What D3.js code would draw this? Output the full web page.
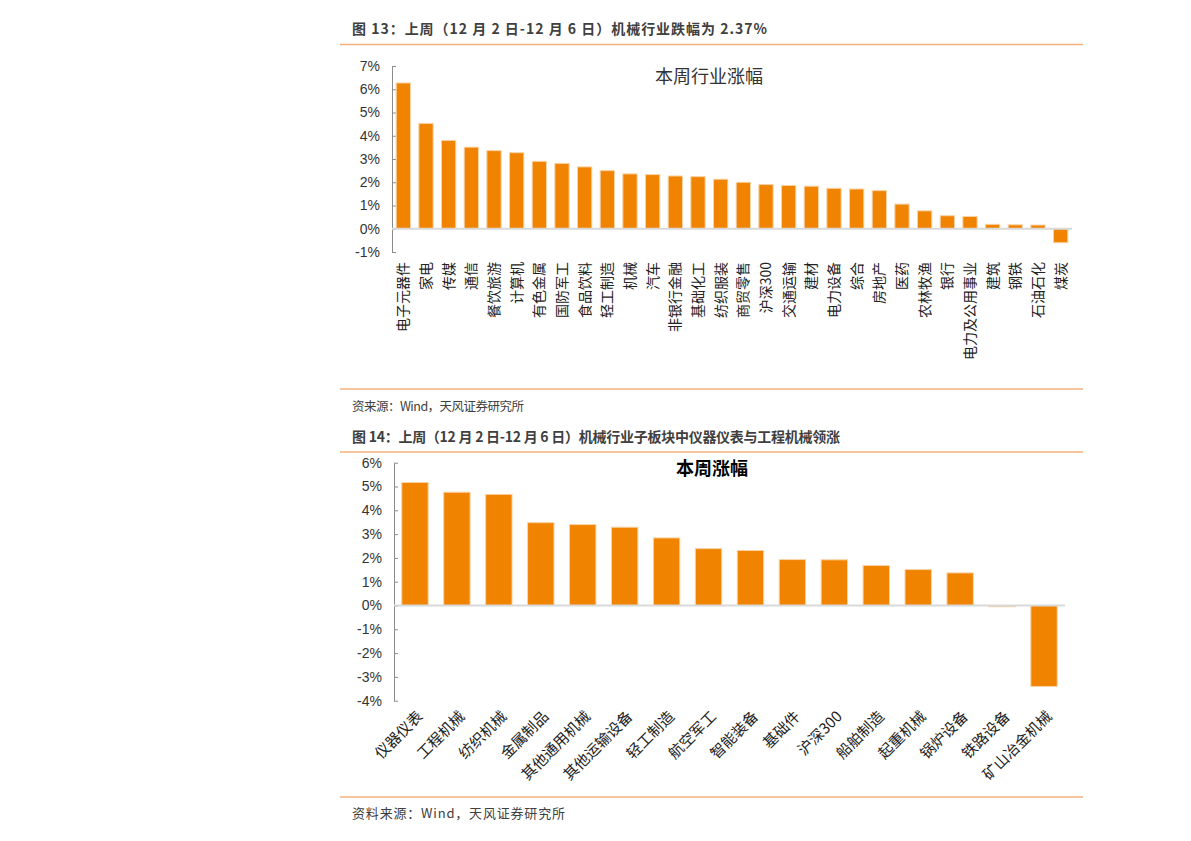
<!DOCTYPE html>
<html>
<head>
<meta charset="utf-8">
<script src="https://cdn.jsdelivr.net/npm/d3@7"></script>
<style>
  body { margin: 0; background: #fff; }
  svg { display: block; }
  text { font-family: "Noto Sans CJK SC", "Microsoft YaHei", sans-serif; }
</style>
</head>
<body>
<svg id="page" width="1191" height="841"></svg>
<script>
// ---- data: figure 13, industry weekly change (%)
const industryNames = ["电子元器件", "家电", "传媒", "通信", "餐饮旅游", "计算机", "有色金属", "国防军工",
    "食品饮料", "轻工制造", "机械", "汽车", "非银行金融", "基础化工", "纺织服装", "商贸零售", "沪深300",
    "交通运输", "建材", "电力设备", "综合", "房地产", "医药", "农林牧渔", "银行", "电力及公用事业",
    "建筑", "钢铁", "石油石化", "煤炭"];
const industryValues = [6.27, 4.53, 3.80, 3.51, 3.36, 3.27, 2.90, 2.81, 2.66, 2.50, 2.36, 2.33, 2.27,
    2.24, 2.13, 2.00, 1.90, 1.86, 1.83, 1.74, 1.71, 1.64, 1.06, 0.77, 0.56, 0.53, 0.19, 0.17, 0.16, -0.60];
const industryTicks = [-1, 0, 1, 2, 3, 4, 5, 6, 7];

// ---- data: figure 14, machinery sub-sectors weekly change (%)
const subNames = ["仪器仪表", "工程机械", "纺织机械", "金属制品", "其他通用机械", "其他运输设备", "轻工制造",
    "航空军工", "智能装备", "基础件", "沪深300", "船舶制造", "起重机械", "锅炉设备", "铁路设备", "矿山冶金机械"];
const subValues = [5.17, 4.76, 4.67, 3.48, 3.40, 3.29, 2.84, 2.39, 2.31, 1.93, 1.92, 1.68, 1.51, 1.37, -0.05, -3.40];
const subTicks = [-4, -3, -2, -1, 0, 1, 2, 3, 4, 5, 6];

const ORANGE = "#F08300";
const RULE = "#F5B07A";

const svg = d3.select("#page");
svg.append("rect").attr("width", 1191).attr("height", 841).attr("fill", "#fff");

// horizontal rules of the report page
[44.5, 389, 452, 797].forEach(y => {
    svg.append("line")
        .attr("x1", 340).attr("x2", 1083)
        .attr("y1", y).attr("y2", y)
        .attr("stroke", RULE).attr("stroke-width", 1.5);
});

// captions and sources (widths matched to the page)
function caption(txt, y, size, bold, len) {
    svg.append("text").attr("x", 352).attr("y", y)
        .attr("fill", "#404040")
        .style("font-size", size + "px")
        .style("font-weight", bold ? "bold" : "normal")
        .attr("textLength", len).attr("lengthAdjust", "spacing")
        .text(txt);
}
caption("图 13：上周（12 月 2 日-12 月 6 日）机械行业跌幅为 2.37%", 34, 14, true, 415);
caption("资来源：Wind，天风证券研究所", 411, 12.5, false, 172);
caption("图 14：上周（12 月 2 日-12 月 6 日）机械行业子板块中仪器仪表与工程机械领涨", 442, 14, true, 488);
caption("资料来源：Wind，天风证券研究所", 818, 13, false, 213);

function drawBars(opt) {
    const g = svg.append("g");

    const x = d3.scaleBand()
        .domain(opt.names)
        .range([opt.left, opt.right])
        .paddingInner(0.37)
        .paddingOuter(0.185);

    const y = d3.scaleLinear()
        .domain([opt.ticks[0], opt.ticks[opt.ticks.length - 1]])
        .range([opt.bottom, opt.top]);

    // y axis
    g.append("g")
        .attr("transform", `translate(${opt.left},0)`)
        .call(d3.axisLeft(y).tickValues(opt.ticks).tickSize(-4).tickSizeOuter(0)
            .tickPadding(12).tickFormat(d => d + "%"))
        .call(a => {
            a.selectAll("path, line").attr("stroke", "#8c8c8c");
            a.selectAll("text").attr("fill", "#333")
                .style("font-family", "'Liberation Sans', Arial, sans-serif")
                .style("font-size", "14px");
        });

    // bars
    const data = opt.names.map((n, i) => ({ name: n, value: opt.values[i] }));
    g.selectAll(".bar")
        .data(data)
        .enter()
        .append("rect")
        .attr("class", "bar")
        .attr("x", d => x(d.name))
        .attr("width", x.bandwidth())
        .attr("y", d => y(Math.max(0, d.value)))
        .attr("height", d => Math.abs(y(d.value) - y(0)))
        .attr("fill", ORANGE)
        .attr("stroke", "#FAD3A6")
        .attr("stroke-width", 1);

    // zero line
    g.append("line")
        .attr("x1", opt.left).attr("x2", opt.right)
        .attr("y1", y(0)).attr("y2", y(0))
        .attr("stroke", "#d9d9d9").attr("stroke-width", 2);

    // category labels
    g.append("g")
        .attr("transform", `translate(0,${opt.bottom})`)
        .call(d3.axisBottom(x).tickSize(0))
        .call(a => {
            a.select(".domain").remove();
            a.selectAll("text")
                .attr("fill", "#222")
                .style("font-family", "'Noto Sans CJK SC', sans-serif")
                .style("font-size", opt.labelSize + "px")
                .style("text-anchor", "end")
                .attr("x", 0).attr("y", 0).attr("dy", "0.35em")
                .attr("transform", opt.labelTransform);
        });

    // chart title
    g.append("text")
        .attr("x", opt.titleX).attr("y", opt.titleY)
        .attr("text-anchor", "middle")
        .attr("dy", "0.35em")
        .attr("fill", opt.titleBold ? "#000" : "#333")
        .style("font-size", "18px")
        .style("font-weight", opt.titleBold ? "bold" : "normal")
        .text(opt.title);
}

drawBars({
    names: industryNames, values: industryValues, ticks: industryTicks,
    left: 392, right: 1072, top: 66, bottom: 252,
    labelSize: 14, labelTransform: "translate(0,10) rotate(-90)",
    title: "本周行业涨幅", titleX: 709, titleY: 77, titleBold: false
});

drawBars({
    names: subNames, values: subValues, ticks: subTicks,
    left: 394, right: 1065, top: 462.7, bottom: 700.7,
    labelSize: 15, labelTransform: "translate(5,13) rotate(-45)",
    title: "本周涨幅", titleX: 712, titleY: 469, titleBold: true
});
</script>
</body>
</html>
